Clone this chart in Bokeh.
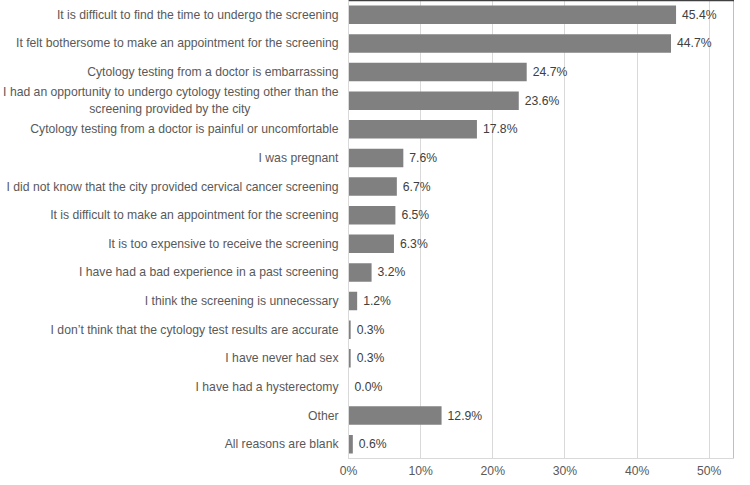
from bokeh.plotting import figure
from bokeh.models import (ColumnDataSource, FactorRange, Range1d, FixedTicker,
                          PrintfTickFormatter, LinearAxis)
from bokeh.core.properties import value
from bokeh.embed import file_html
from bokeh.resources import INLINE

NB = "\u00a0"
categories = [
    "It is difficult to find the time to undergo the screening",
    "It felt bothersome to make an appointment for the screening",
    "Cytology testing from a doctor is embarrassing",
    "I had an opportunity to undergo cytology testing other than the\nscreening provided by the city" + NB * 26,
    "Cytology testing from a doctor is painful or uncomfortable",
    "I was pregnant",
    "I did not know that the city provided cervical cancer screening",
    "It is difficult to make an appointment for the screening",
    "It is too expensive to receive the screening",
    "I have had a bad experience in a past screening",
    "I think the screening is unnecessary",
    "I don\u2019t think that the cytology test results are accurate",
    "I have never had sex",
    "I have had a hysterectomy",
    "Other",
    "All reasons are blank",
]
percents = [45.4, 44.7, 24.7, 23.6, 17.8, 7.6, 6.7, 6.5, 6.3, 3.2, 1.2, 0.3, 0.3, 0.0, 12.9, 0.6]
x_ticks = [0, 10, 20, 30, 40, 50]

FONT = "Liberation Sans"

src = ColumnDataSource(dict(cat=categories, val=percents,
                            lab=[f"{v:.1f}%" for v in percents]))

p = figure(width=734, frame_height=458, output_backend="svg", toolbar_location=None,
           y_range=FactorRange(factors=list(reversed(categories))),
           x_range=Range1d(0, 53.5),
           min_border_left=345, min_border_right=0, min_border_top=0,
           min_border_bottom=0)

p.hbar(y="cat", right="val", height=0.65, source=src,
       fill_color="#808080", line_color=None)
p.text(x="val", y="cat", text="lab", source=src, x_offset=6,
       text_align="left", text_baseline="middle", text_font=value(FONT),
       text_font_size="12.2px", text_color="#404040")

p.xaxis.ticker = FixedTicker(ticks=x_ticks)
p.xaxis.formatter = PrintfTickFormatter(format="%d%%")
p.xaxis.axis_line_color = "#d9d9d9"
p.xaxis.major_tick_line_color = None
p.xaxis.major_tick_out = 0
p.xaxis.minor_tick_line_color = None
p.xaxis.minor_tick_out = 0
p.xaxis.major_label_text_font = FONT
p.xaxis.major_label_text_font_size = "12.2px"
p.xaxis.major_label_text_color = "#595959"
p.xaxis.major_label_standoff = 5

p.yaxis.axis_line_color = "#d9d9d9"
p.yaxis.major_tick_line_color = None
p.yaxis.major_tick_out = 0
p.yaxis.minor_tick_line_color = None
p.yaxis.minor_tick_out = 0
p.yaxis.major_label_text_font = FONT
p.yaxis.major_label_text_font_size = "12.2px"
p.yaxis.major_label_text_color = "#595959"
p.yaxis.major_label_standoff = 10

top = LinearAxis(axis_line_color="#404040", axis_line_width=1.5,
                 major_tick_line_color=None, minor_tick_line_color=None,
                 major_tick_out=0, minor_tick_out=0,
                 major_label_text_font_size="0px", major_label_standoff=0,
                 ticker=FixedTicker(ticks=[]))
p.add_layout(top, "above")

p.xgrid.ticker = FixedTicker(ticks=x_ticks)
p.xgrid.grid_line_color = "#d9d9d9"
p.ygrid.grid_line_color = None
p.outline_line_color = "#bfbfbf"

open("out.html", "w").write(file_html(p, INLINE))
